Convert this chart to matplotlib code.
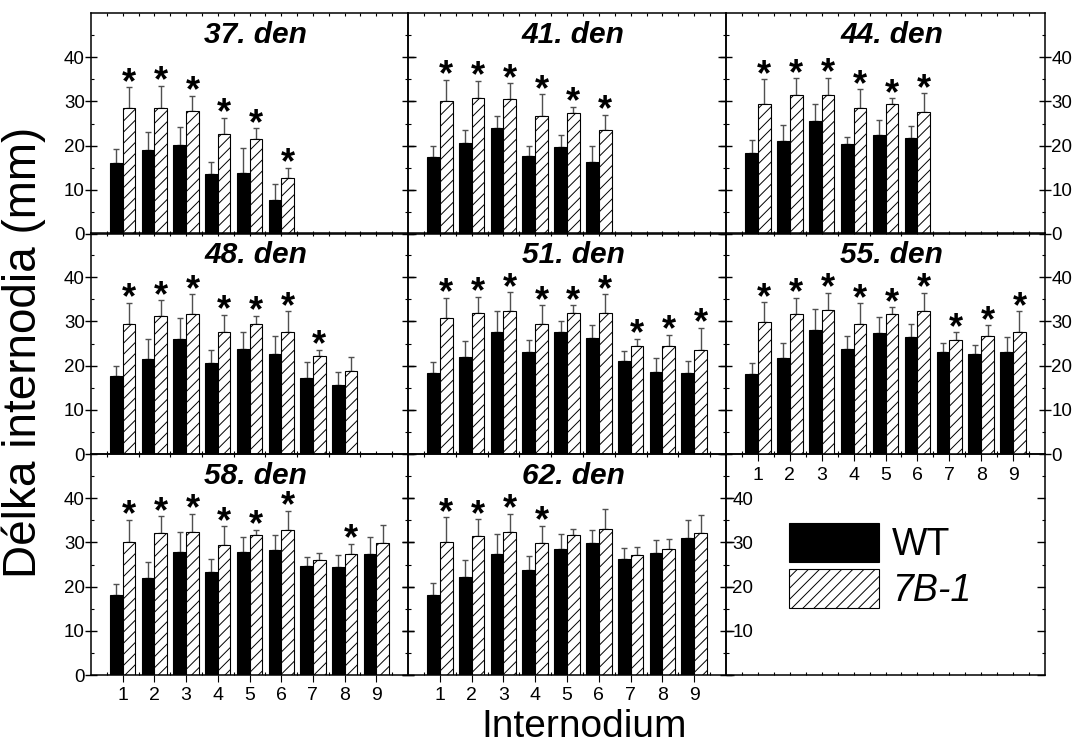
import matplotlib
matplotlib.use('Agg')
import matplotlib.pyplot as plt
import numpy as np
from matplotlib.ticker import FixedLocator

plt.rcParams['font.family'] = ['Liberation Sans', 'DejaVu Sans']
plt.rcParams['hatch.linewidth'] = 0.7
plt.rcParams['axes.linewidth'] = 1.1

internodes = [1, 2, 3, 4, 5, 6, 7, 8, 9]
titles = ['37. den', '41. den', '44. den', '48. den', '51. den', '55. den', '58. den', '62. den']
labels = ['WT', '7B-1']
y_ticks = [0, 10, 20, 30, 40]

wt_37 = [16.1, 19.0, 20.2, 13.5, 13.9, 7.8]
wt_37_err = [3.2, 4.0, 4.1, 2.9, 5.6, 3.4]
b7_37 = [28.4, 28.4, 27.9, 22.7, 21.6, 12.7]
b7_37_err = [4.8, 5.1, 3.4, 3.6, 2.3, 2.3]
sig_37 = [1, 1, 1, 1, 1, 1]

wt_41 = [17.4, 20.5, 23.9, 17.7, 19.6, 16.2]
wt_41_err = [2.4, 3.1, 2.8, 2.2, 2.9, 3.6]
b7_41 = [30.0, 30.7, 30.5, 26.7, 27.3, 23.6]
b7_41_err = [4.9, 3.9, 3.6, 4.9, 1.5, 3.3]
sig_41 = [1, 1, 1, 1, 1, 1]

wt_44 = [18.3, 21.1, 25.5, 20.3, 22.5, 21.7]
wt_44_err = [2.9, 3.5, 4.0, 1.7, 3.4, 2.8]
b7_44 = [29.5, 31.4, 31.4, 28.4, 29.3, 27.7]
b7_44_err = [5.5, 3.8, 4.0, 4.3, 1.4, 4.1]
sig_44 = [1, 1, 1, 1, 1, 1]

wt_48 = [17.6, 21.4, 26.1, 20.7, 23.8, 22.6, 17.3, 15.7]
wt_48_err = [2.4, 4.7, 4.6, 2.9, 3.7, 4.0, 3.5, 2.9]
b7_48 = [29.4, 31.3, 31.6, 27.7, 29.4, 27.7, 22.2, 18.8]
b7_48_err = [4.8, 3.5, 4.5, 3.8, 1.9, 4.6, 1.4, 3.2]
sig_48 = [1, 1, 1, 1, 1, 1, 1, 0]

wt_51 = [18.3, 21.9, 27.5, 23.1, 27.5, 26.2, 21.1, 18.6, 18.3]
wt_51_err = [2.5, 3.6, 4.9, 2.8, 2.7, 3.0, 2.3, 3.1, 2.8]
b7_51 = [30.7, 31.8, 32.3, 29.5, 32.0, 31.8, 24.5, 24.5, 23.6]
b7_51_err = [4.7, 3.8, 4.3, 4.1, 1.6, 4.3, 1.6, 2.5, 4.9]
sig_51 = [1, 1, 1, 1, 1, 1, 1, 1, 1]

wt_55 = [18.0, 21.7, 28.0, 23.7, 27.3, 26.5, 23.1, 22.7, 23.1]
wt_55_err = [2.5, 3.4, 4.8, 2.9, 3.8, 3.0, 2.1, 2.0, 3.4]
b7_55 = [29.8, 31.7, 32.5, 29.5, 31.6, 32.3, 25.7, 26.8, 27.7]
b7_55_err = [4.5, 3.7, 3.9, 4.6, 1.6, 4.1, 1.8, 2.3, 4.6]
sig_55 = [1, 1, 1, 1, 1, 1, 1, 1, 1]

wt_58 = [18.0, 22.0, 27.8, 23.4, 27.9, 28.2, 24.6, 24.4, 27.3]
wt_58_err = [2.6, 3.6, 4.5, 2.8, 3.4, 3.4, 2.0, 2.7, 3.9]
b7_58 = [30.1, 32.1, 32.3, 29.4, 31.6, 32.8, 26.0, 27.4, 29.8]
b7_58_err = [5.0, 3.8, 4.2, 4.2, 1.3, 4.4, 1.7, 2.3, 4.1]
sig_58 = [1, 1, 1, 1, 1, 1, 0, 1, 0]

wt_62 = [18.1, 22.2, 27.4, 23.7, 28.4, 29.9, 26.3, 27.5, 31.1]
wt_62_err = [2.7, 3.8, 4.5, 3.2, 3.5, 3.0, 2.5, 3.1, 4.0]
b7_62 = [30.1, 31.5, 32.4, 29.8, 31.7, 33.0, 27.2, 28.6, 32.2]
b7_62_err = [5.6, 3.7, 4.0, 4.0, 1.3, 4.6, 1.7, 2.2, 3.9]
sig_62 = [1, 1, 1, 1, 0, 0, 0, 0, 0]

panels = [
    (wt_37, wt_37_err, b7_37, b7_37_err, sig_37),
    (wt_41, wt_41_err, b7_41, b7_41_err, sig_41),
    (wt_44, wt_44_err, b7_44, b7_44_err, sig_44),
    (wt_48, wt_48_err, b7_48, b7_48_err, sig_48),
    (wt_51, wt_51_err, b7_51, b7_51_err, sig_51),
    (wt_55, wt_55_err, b7_55, b7_55_err, sig_55),
    (wt_58, wt_58_err, b7_58, b7_58_err, sig_58),
    (wt_62, wt_62_err, b7_62, b7_62_err, sig_62),
]

W, H = 1072, 749
fig = plt.figure(figsize=(W / 100, H / 100), dpi=100)

col_left = [91, 408, 726]
col_right = [408, 726, 1045]
row_top = [13, 233, 454]
row_h = 221

def make_axes(r, c):
    x0 = col_left[c] / W
    w = (col_right[c] - col_left[c]) / W
    y0 = 1 - (row_top[r] + row_h) / H
    return fig.add_axes([x0, y0, w, row_h / H])

def style_axes(ax):
    ax.set_xlim(0, 10)
    ax.set_ylim(0, 50)
    ax.xaxis.set_major_locator(FixedLocator(internodes))
    ax.xaxis.set_minor_locator(FixedLocator(np.arange(0.5, 10, 1.0)))
    ax.yaxis.set_major_locator(FixedLocator(y_ticks))
    ax.yaxis.set_minor_locator(FixedLocator([5, 15, 25, 35, 45]))
    ax.tick_params(which='both', top=True, right=True, left=True, bottom=True,
                   direction='in', labelbottom=False, labelleft=False,
                   colors='black')
    ax.tick_params(axis='x', which='both', length=2, width=0.8, labelsize=14)
    ax.tick_params(axis='y', which='major', length=6, width=1.0, labelsize=13.5, pad=0.5)
    ax.tick_params(axis='y', which='minor', length=2, width=0.8)

# empty legend panel (created first so it stays underneath the others' labels)
axl = make_axes(2, 2)
style_axes(axl)
axl.tick_params(top=False)
axl.patch.set_visible(False)

bar_w = 0.4
handles = None
x = np.array(internodes)
for i, (wt, wte, b7, b7e, sig) in enumerate(panels):
    r, c = divmod(i, 3)
    ax = make_axes(r, c)
    style_axes(ax)
    ax.patch.set_visible(False)
    n = len(wt)
    xi = x[:n]
    ax.errorbar(xi - bar_w / 2, wt, yerr=[np.zeros(n), wte], fmt='none',
                ecolor='#505050', elinewidth=1.0, capsize=2, capthick=1.0, zorder=0.5)
    ax.errorbar(xi + bar_w / 2, b7, yerr=[np.zeros(n), b7e], fmt='none',
                ecolor='#505050', elinewidth=1.0, capsize=2, capthick=1.0, zorder=0.5)
    h1 = ax.bar(xi - bar_w / 2, wt, width=bar_w, color='black', edgecolor='black',
                linewidth=0.8, zorder=2, label=labels[0])
    h2 = ax.bar(xi + bar_w / 2, b7, width=bar_w, color='white', edgecolor='black',
                hatch='///', linewidth=0.8, zorder=2, label=labels[1])
    if handles is None:
        handles = [h1, h2]
    for j in range(n):
        if sig[j]:
            ax.annotate('*', xy=(xi[j] + bar_w / 2, b7[j] + b7e[j]), xytext=(0, -4),
                        textcoords='offset points', ha='center', va='baseline',
                        fontsize=26, fontweight='bold')
    ax.text(0.52, 0.864, titles[i], transform=ax.transAxes, ha='center',
            va='baseline', fontsize=21.5, fontweight='bold', style='italic')
    if c == 0:
        ax.tick_params(axis='y', which='major', labelleft=True, direction='inout', length=8)
    if c == 2:
        ax.tick_params(axis='y', which='major', labelright=True, direction='inout', length=8)
    if r == 2 or i == 5:
        ax.tick_params(axis='x', which='major', labelbottom=True, direction='out',
                       length=5, top=False, pad=4)
    if i == 7:
        ax.tick_params(axis='y', which='major', labelright=True, direction='inout', length=8)
        ax.set_yticks(y_ticks)
        ax.set_yticklabels([''] + [str(v) for v in y_ticks[1:]])

leg = axl.legend(handles=handles, labels=labels, loc='upper left',
                 bbox_to_anchor=(0.197, 0.69), frameon=False, fontsize=27,
                 handlelength=2.4, handleheight=1.25, handletextpad=0.35,
                 labelspacing=0.15, borderpad=0, borderaxespad=0)
leg.get_texts()[1].set_style('italic')

fig.text(24 / W, 1 - 352 / H, 'Délka internodia (mm)', rotation=90,
         ha='center', va='center', fontsize=33)
fig.text(584 / W, 1 - 727 / H, 'Internodium', ha='center', va='center', fontsize=28)

fig.savefig('out.png', dpi=100)
